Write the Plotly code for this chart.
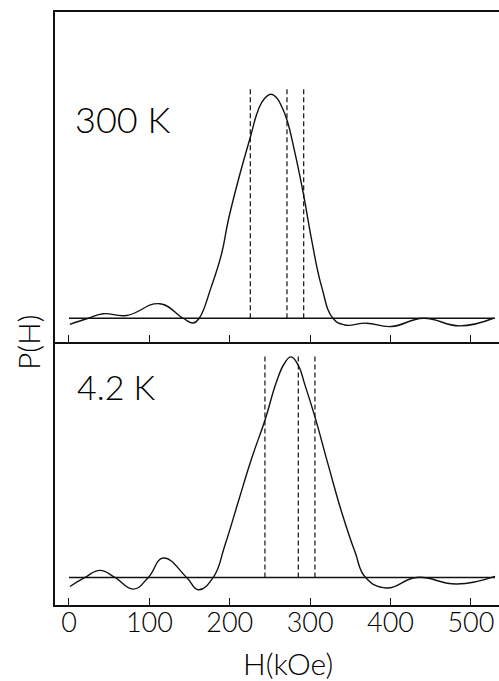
import plotly.graph_objects as go

# ---- data ----
top_H = [1, 24, 42.7, 71.8, 113, 142, 154.7, 162, 177, 190, 198.2, 210.6, 225.6, 235.5, 243,
         251.3, 258, 264.6, 271.2, 281.2, 292, 302, 314.4, 328.4, 343, 370, 401, 441, 486, 528]
top_P = [-0.027, 0, 0.02, 0.0125, 0.065, 0, -0.021, 0, 0.14, 0.29, 0.4375, 0.616, 0.808, 0.93, 0.98,
         1.0, 0.985, 0.945, 0.885, 0.737, 0.549, 0.348, 0.14, 0, -0.03, -0.022, -0.037, 0, -0.034, 0]

bot_H = [1.2, 19.9, 38.6, 57.2, 80, 98.7, 117.3, 146.4, 161, 179.5, 194, 210.6, 227.2, 243.8,
         258.2, 268, 276.2, 285.3, 293.6, 306, 322.6, 339.2, 355.8, 369, 395.2, 432.6, 482.3, 530]
bot_P = [-0.041, 0, 0.032, 0, -0.053, 0, 0.088, 0, -0.056, 0, 0.146, 0.343, 0.539, 0.713,
         0.887, 0.97, 1.0, 0.962, 0.872, 0.728, 0.509, 0.297, 0.116, 0, -0.048, 0, -0.03, 0.005]

top_dashed = [225.6, 271.2, 292]
bot_dashed = [243.8, 285.3, 306]
dash_top_height = 1.022
dash_bot_height = 1.014

baseline_H = [0, 530]
panel_labels = ["300 K", "4.2 K"]
tick_vals = [0, 100, 200, 300, 400, 500]
tick_text = ["0", "100", "200", "300", "400", "500"]

FONT = "Lato"
INK = "#111111"

fig = go.Figure()

def add_panel(H, P, dashed, dh, xa, ya):
    fig.add_trace(go.Scatter(x=baseline_H, y=[0, 0], mode="lines",
                             line=dict(color=INK, width=1.6), xaxis=xa, yaxis=ya,
                             hoverinfo="skip", showlegend=False))
    for d in dashed:
        fig.add_trace(go.Scatter(x=[d, d], y=[0, dh], mode="lines",
                                 line=dict(color=INK, width=1.2, dash="5px,3px"),
                                 xaxis=xa, yaxis=ya, showlegend=False, hoverinfo="skip"))
    fig.add_trace(go.Scatter(x=H, y=P, mode="lines",
                             line=dict(color=INK, width=1.4, shape="spline", smoothing=1.3),
                             xaxis=xa, yaxis=ya, showlegend=False))

add_panel(top_H, top_P, top_dashed, dash_top_height, "x2", "y2")
add_panel(bot_H, bot_P, bot_dashed, dash_bot_height, "x", "y")

xr = [-17.4, 535]
split = 263 / 593

fig.update_layout(
    width=499, height=681,
    margin=dict(l=55, r=0, t=12, b=76),
    paper_bgcolor="white", plot_bgcolor="white",
    font=dict(family=FONT, color=INK),
    xaxis=dict(domain=[0, 1], range=xr, anchor="y", tickmode="array",
               tickvals=tick_vals, ticktext=tick_text, ticks="inside", ticklen=7,
               tickwidth=1.3, tickcolor=INK, showline=True, linecolor=INK, linewidth=1.5,
               mirror=False, showgrid=False, zeroline=False, ticklabelstandoff=-7,
               tickfont=dict(family=FONT, size=27, color="#000000", weight=300)),
    xaxis2=dict(domain=[0, 1], range=xr, anchor="y2", matches="x", tickmode="array",
                tickvals=tick_vals, ticks="inside", ticklen=7, tickwidth=1.3, tickcolor=INK,
                showticklabels=False, showline=True, linecolor=INK, linewidth=1.5,
                mirror=True, showgrid=False, zeroline=False),
    yaxis=dict(domain=[0, split], range=[-0.125, 1.0675], showline=True, linecolor=INK,
               linewidth=1.5, showticklabels=False, ticks="", showgrid=False, zeroline=False),
    yaxis2=dict(domain=[split, 1], range=[-0.106, 1.367], showline=True, linecolor=INK,
                linewidth=1.5, showticklabels=False, ticks="", showgrid=False, zeroline=False),
)

fig.add_annotation(x=5, y=0.8875, xref="x2", yref="y2", text=panel_labels[0],
                   showarrow=False, xanchor="left", yanchor="middle",
                   font=dict(family=FONT, size=36, color="#000000", weight=300))
fig.add_annotation(x=7.5, y=0.866, xref="x", yref="y", text=panel_labels[1],
                   showarrow=False, xanchor="left", yanchor="middle",
                   font=dict(family=FONT, size=34, color="#000000", weight=300))
fig.add_annotation(x=0.525, y=-0.0978, xref="paper", yref="paper", text="H(kOe)",
                   showarrow=False, xanchor="center", yanchor="middle",
                   font=dict(family=FONT, size=30, color="#000000", weight=300))
fig.add_annotation(x=-0.0608, y=0.4418, xref="paper", yref="paper", text="P(H)",
                   showarrow=False, xanchor="center", yanchor="middle", textangle=-90,
                   font=dict(family=FONT, size=30, color="#000000", weight=300))

fig.write_html("out.html")
